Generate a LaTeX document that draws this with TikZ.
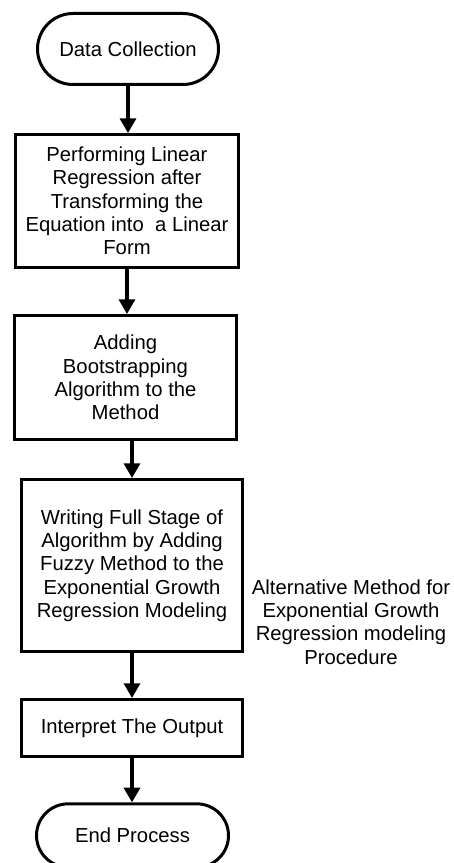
\documentclass[tikz,border=0pt]{standalone}
\usepackage{fontspec}
\setmainfont{Liberation Sans}
\usetikzlibrary{shapes.misc,arrows.meta}
\begin{document}
\begin{tikzpicture}[x=0.75pt,y=-0.75pt,
  every node/.style={font=\fontsize{15.2}{17.5}\selectfont, align=center, inner sep=0pt},
  term/.style={draw, line width=2.25pt, rounded rectangle},
  procbox/.style={draw, line width=2.25pt, rectangle},
  flow/.style={line width=2.5pt, -{Triangle[width=12pt,length=11pt]}}]
\useasboundingbox (0,0) rectangle (453,863);
\node[term, minimum width=135.75pt, minimum height=53.25pt] (start) at (128,49) {Data Collection};
\node[procbox, minimum width=167.25pt, minimum height=99.75pt] (b1) at (127,201)
  {Performing Linear\\Regression after\\Transforming the\\Equation into\ \ a Linear\\Form};
\node[procbox, minimum width=166.5pt, minimum height=93pt] (b2) at (125.5,377.5)
  {Adding\\ Bootstrapping\\Algorithm to the\\Method};
\node[procbox, minimum width=165.75pt, minimum height=129pt] (b3) at (132,565.5)
  {Writing Full Stage of\\Algorithm by Adding\\Fuzzy Method to the\\Exponential Growth\\Regression Modeling};
\node[procbox, minimum width=165.75pt, minimum height=42.75pt] (b4) at (132,728)
  {Interpret The Output};
\node[term, minimum width=144pt, minimum height=47.5pt] (end) at (132.5,835.5) {End Process};
\node (side) at (351,622)
  {Alternative Method for\\Exponential Growth\\Regression modeling\\Procedure};
\draw[flow] (start.south) -- (start.south |- b1.north);
\draw[flow] (b1.south) -- (b1.south |- b2.north);
\draw[flow] (b2.south -| b3.north) -- (b3.north);
\draw[flow] (b3.south) -- (b3.south |- b4.north);
\draw[flow] (b4.south) -- (b4.south |- end.north);
\end{tikzpicture}
\end{document}
